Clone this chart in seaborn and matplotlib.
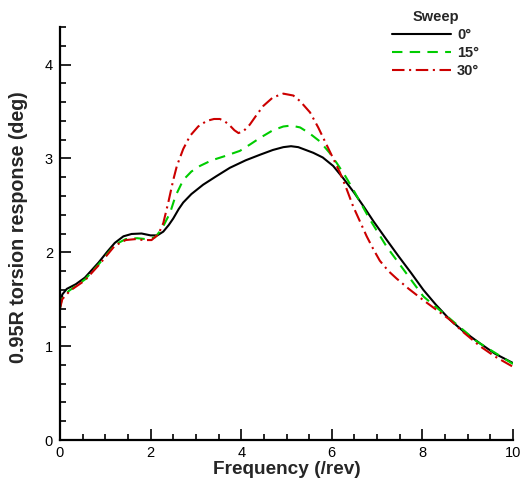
import matplotlib
matplotlib.use("Agg")
import matplotlib.pyplot as plt
from matplotlib.ticker import MultipleLocator
import seaborn as sns
import pandas as pd

# ---- data ----
x_0 = [0, 0.05, 0.15, 0.35, 0.55, 0.85, 1.05, 1.21, 1.4, 1.58, 1.8, 2.0, 2.15, 2.28, 2.4, 2.5,
       2.62, 2.72, 2.9, 3.16, 3.45, 3.75, 4.1, 4.42, 4.7, 4.93, 5.1, 5.26, 5.59, 5.8, 6.03,
       6.25, 6.5, 6.7, 6.92, 7.2, 7.47, 7.75, 8.02, 8.3, 8.61, 8.9, 9.27, 9.6, 10.0]
y_0 = [1.42, 1.55, 1.61, 1.66, 1.73, 1.89, 2.01, 2.10, 2.17, 2.195, 2.20, 2.18, 2.18, 2.22, 2.29, 2.36,
       2.46, 2.53, 2.62, 2.72, 2.81, 2.90, 2.98, 3.04, 3.09, 3.12, 3.13, 3.12, 3.06, 3.01, 2.92,
       2.79, 2.63, 2.49, 2.33, 2.14, 1.96, 1.78, 1.60, 1.44, 1.28, 1.16, 1.03, 0.92, 0.82]

x_15 = [0, 0.05, 0.2, 0.55, 0.85, 1.21, 1.45, 1.7, 1.9, 2.1, 2.25, 2.43, 2.55, 2.72, 2.9, 3.09,
        3.35, 3.61, 3.97, 4.2, 4.42, 4.7, 4.93, 5.1, 5.3, 5.5, 5.74, 5.95, 6.11, 6.3, 6.47,
        6.84, 7.21, 7.47, 8.02, 8.54, 9.2, 10.0]
y_15 = [1.41, 1.52, 1.59, 1.71, 1.87, 2.08, 2.14, 2.15, 2.14, 2.16, 2.25, 2.42, 2.60, 2.77, 2.86, 2.92,
        2.98, 3.02, 3.08, 3.15, 3.22, 3.30, 3.34, 3.35, 3.33, 3.27, 3.18, 3.06, 2.95, 2.81, 2.67,
        2.35, 2.06, 1.89, 1.53, 1.32, 1.05, 0.81]

x_30 = [0, 0.05, 0.22, 0.55, 0.85, 1.21, 1.45, 1.66, 1.85, 2.02, 2.17, 2.28, 2.39, 2.5, 2.58, 2.72,
        2.87, 3.05, 3.24, 3.4, 3.53, 3.65, 3.75, 3.85, 3.94, 4.05, 4.19, 4.35, 4.49, 4.7, 4.93,
        5.15, 5.3, 5.52, 5.7, 5.89, 6.03, 6.18, 6.33, 6.47, 6.62, 6.77, 6.92, 7.06, 7.25, 7.43,
        7.7, 8.02, 8.3, 8.61, 8.9, 9.27, 9.6, 10.0]
y_30 = [1.40, 1.50, 1.59, 1.70, 1.86, 2.07, 2.13, 2.14, 2.13, 2.13, 2.19, 2.31, 2.53, 2.77, 2.92, 3.10,
        3.24, 3.34, 3.40, 3.42, 3.42, 3.39, 3.35, 3.30, 3.27, 3.29, 3.36, 3.47, 3.56, 3.65, 3.69,
        3.67, 3.61, 3.49, 3.33, 3.14, 3.00, 2.85, 2.67, 2.49, 2.33, 2.17, 2.03, 1.91, 1.80, 1.72,
        1.61, 1.49, 1.39, 1.28, 1.15, 1.00, 0.89, 0.78]

series_labels = ["0°", "15°", "30°"]
legend_title = "Sweep"
x_label = "Frequency (/rev)"
y_label = "0.95R torsion response (deg)"
x_ticks = [0, 2, 4, 6, 8, 10]
y_ticks = [0, 1, 2, 3, 4]

# ---- styling ----
sns.set_style("ticks")
plt.rcParams["font.family"] = ["Liberation Sans", "DejaVu Sans"]

fig = plt.figure(figsize=(5.22, 4.83), dpi=100)
ax = fig.add_axes([60 / 522, 1 - 440 / 483, 453 / 522, 413 / 483])

colors = ["#000000", "#00cc00", "#cc0000"]
styles = ["-", (0, (5, 3.5)), (0, (6, 2.2, 1, 2.2))]
xs = [x_0, x_15, x_30]
ys = [y_0, y_15, y_30]
for xv, yv, lab, c, ls in zip(xs, ys, series_labels, colors, styles):
    df = pd.DataFrame({"x": xv, "y": yv})
    sns.lineplot(data=df, x="x", y="y", ax=ax, color=c, linestyle=ls,
                 linewidth=1.5, label=lab, sort=False, estimator=None)

ax.set_xlim(0, 10)
ax.set_ylim(0, 4.4)
ax.set_xticks(x_ticks)
ax.set_yticks(y_ticks)
ax.xaxis.set_minor_locator(MultipleLocator(0.5))
ax.yaxis.set_minor_locator(MultipleLocator(0.2))
ax.tick_params(which="both", direction="in", width=1.2, colors="black")
ax.tick_params(which="major", length=8, labelsize=10.5, pad=4)
ax.tick_params(which="minor", length=4.5)
ax.tick_params(axis="y", which="major", pad=5)

for s in ["top", "right"]:
    ax.spines[s].set_visible(False)
for s in ["left", "bottom"]:
    ax.spines[s].set_linewidth(1.6)
    ax.spines[s].set_color("black")

ax.set_xlabel(x_label, fontsize=13.7, fontweight="bold", labelpad=1)
ax.set_ylabel(y_label, fontsize=14.2, fontweight="bold")
ax.yaxis.set_label_coords(-0.070, 0.515)

ax.get_legend().remove()
handles, labels = ax.get_legend_handles_labels()
leg = fig.legend(handles, labels, title=legend_title, loc="upper left",
                 bbox_to_anchor=(382 / 522, 1.0), frameon=False,
                 prop={"weight": "bold", "size": 10.5}, handlelength=4.0,
                 handletextpad=0.45, labelspacing=0.28, borderpad=0.2)
leg.get_title().set_fontweight("bold")
leg.get_title().set_fontsize(10.5)

fig.savefig("out.png", dpi=100)
